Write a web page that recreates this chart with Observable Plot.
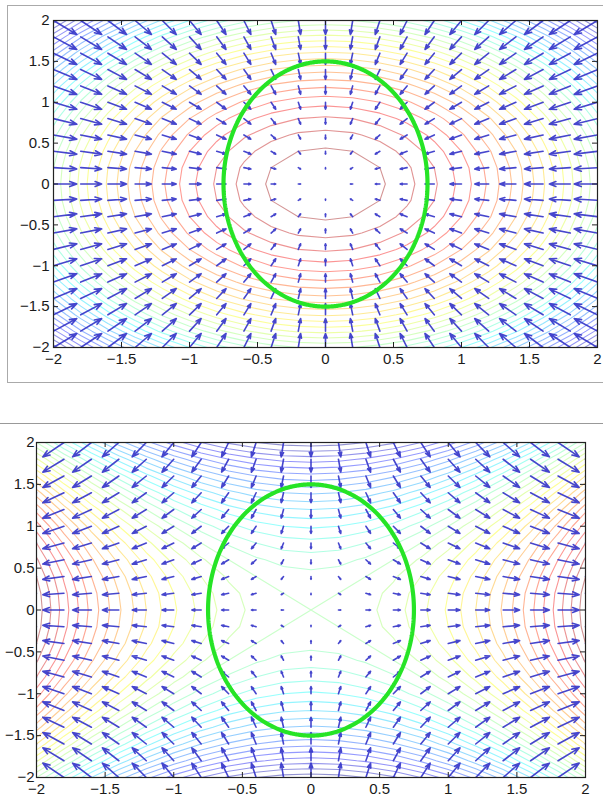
<!DOCTYPE html>
<html><head><meta charset="utf-8">
<script src="https://cdn.jsdelivr.net/npm/d3@7"></script>
<script src="https://cdn.jsdelivr.net/npm/@observablehq/plot@0.6"></script>
<style>
body{margin:0;background:#fff;width:603px;height:797px;position:relative;overflow:hidden;font-family:"Liberation Sans",Arial,sans-serif}
#p1{position:absolute;left:0;top:0}
#p2{position:absolute;left:0;top:423px}
.b1{position:absolute;left:7px;top:5px;width:596px;height:376px;border:1px solid #aaa;border-right:none}
.b2{position:absolute;left:0;top:423px;width:603px;height:0;border-top:1px solid #999}
</style></head><body>
<div id="p1"></div><div id="p2"></div>
<div class="b1"></div><div class="b2"></div>
<script>
// ---- data ----
// quiver grid (arrow tails)
const gridPts = [-2,-1.8,-1.6,-1.4,-1.2,-1,-0.8,-0.6,-0.4,-0.2,0,0.2,0.4,0.6,0.8,1,1.2,1.4,1.6,1.8,2];
// contour sampling grid (same spacing, padded past the axes so no ring closes on the frame)
const contourPts = [-2.4,-2.2,-2,-1.8,-1.6,-1.4,-1.2,-1,-0.8,-0.6,-0.4,-0.2,0,0.2,0.4,0.6,0.8,1,1.2,1.4,1.6,1.8,2,2.2,2.4];
const xTicks = [-2,-1.5,-1,-0.5,0,0.5,1,1.5,2];
const yTicks = [-2,-1.5,-1,-0.5,0,0.5,1,1.5,2];
// contour levels
const bowlLevels = [-7.88,-7.64,-7.4,-7.16,-6.92,-6.68,-6.44,-6.2,-5.96,-5.72,-5.48,-5.24,-5.0,-4.76,-4.52,-4.28,-4.04,-3.8,-3.56,-3.32,-3.08,-2.84,-2.6,-2.36,-2.12,-1.88,-1.64,-1.4,-1.16,-0.92,-0.68,-0.44,-0.2];
const saddleLevels = [-3.84,-3.6,-3.36,-3.12,-2.88,-2.64,-2.4,-2.16,-1.92,-1.68,-1.44,-1.2,-0.96,-0.72,-0.48,-0.24,0,0.24,0.48,0.72,0.96,1.2,1.44,1.68,1.92,2.16,2.4,2.64,2.88,3.12,3.36,3.6,3.84];
const bowlRange = [-8, 0];
const saddleRange = [-4, 4];
const ellipseAxes = [0.75, 1.5];
const jetStops = [0, 0.125, 0.375, 0.625, 0.875, 1];
const jetColors = ["#000080", "#0000ff", "#00ffff", "#ffff00", "#ff0000", "#800000"];

// surfaces and their gradients
const bowl = {f: (x, y) => -(x * x + y * y), g: (x, y) => [-2 * x, -2 * y]};
const saddle = {f: (x, y) => x * x - y * y, g: (x, y) => [2 * x, -2 * y]};

const fmt = d => (d < 0 ? "\u2212" : "") + Math.abs(d);

function gridValues(fn) {
  const vals = [];
  for (const y of contourPts) for (const x of contourPts) vals.push(fn(x, y));
  return vals;
}
function quiver(gn) {
  const pts = [];
  for (const y of gridPts) for (const x of gridPts) { const [u, v] = gn(x, y); pts.push({x, y, u, v}); }
  // MATLAB-style autoscale
  const n = gridPts.length;
  const del = Math.hypot(4 / n, 4 / n);
  const maxlen = d3.max(pts, p => Math.hypot(p.u, p.v) / del);
  const s = 0.9 / maxlen;
  return pts.map(p => ({...p, x2: p.x + s * p.u, y2: p.y + s * p.v}));
}

function panel(surface, levels, range, dims) {
  const {width, height, ml, mr, mt, mb, xpad, ypad} = dims;
  const pw = width - ml - mr, ph = height - mt - mb;
  const half = (contourPts[1] - contourPts[0]) / 2;
  const lo = contourPts[0] - half, hi = contourPts[contourPts.length - 1] + half;
  const n = contourPts.length;
  return Plot.plot({
    width, height, marginLeft: ml, marginRight: mr, marginTop: mt, marginBottom: mb,
    x: {domain: [-2, 2], label: null},
    y: {domain: [-2, 2], label: null},
    color: {type: "linear", domain: jetStops.map(t => range[0] + t * (range[1] - range[0])), range: jetColors, interpolate: "rgb"},
    style: {fontFamily: "'Liberation Sans', Arial, sans-serif", fontSize: "15px", color: "#1a1a1a", background: "white"},
    marks: [
      Plot.contour(gridValues(surface.f), {width: n, height: n, x1: lo, x2: hi, y1: lo, y2: hi,
        value: Plot.identity, thresholds: levels, stroke: "value", fill: "none",
        strokeWidth: 1.1, strokeOpacity: 0.42, clip: true}),
      Plot.arrow(quiver(surface.g), {x1: "x", y1: "y", x2: "x2", y2: "y2",
        stroke: "#3232c8", strokeWidth: 1.6, strokeOpacity: 0.9, headLength: 7, headAngle: 40, clip: true}),
      Plot.contour({x1: lo, x2: hi, y1: lo, y2: hi,
        value: (x, y) => (x / ellipseAxes[0]) ** 2 + (y / ellipseAxes[1]) ** 2,
        thresholds: [1], stroke: "#26e426", strokeWidth: 4.2, fill: "none", pixelSize: 1, clip: true}),
      Plot.frame({stroke: "#222", strokeWidth: 1.2}),
      Plot.ruleX(xTicks, {x: d => d, insetTop: ph - 5, stroke: "#222"}),
      Plot.ruleX(xTicks, {x: d => d, insetBottom: ph - 5, stroke: "#222"}),
      Plot.ruleY(yTicks, {y: d => d, insetRight: pw - 5, stroke: "#222"}),
      Plot.ruleY(yTicks, {y: d => d, insetLeft: pw - 5, stroke: "#222"}),
      Plot.axisX(xTicks, {anchor: "bottom", tickSize: 0, tickPadding: xpad, tickFormat: fmt, label: null, fontSize: 15}),
      Plot.axisY(yTicks, {anchor: "left", tickSize: 0, tickPadding: ypad, tickFormat: fmt, label: null, fontSize: 15})
    ]
  });
}

document.getElementById("p1").appendChild(panel(bowl, bowlLevels, bowlRange,
  {width: 603, height: 380, ml: 53, mr: 6, mt: 20, mb: 33, xpad: 6, ypad: 4}));
document.getElementById("p2").appendChild(panel(saddle, saddleLevels, saddleRange,
  {width: 603, height: 374, ml: 36, mr: 18, mt: 19, mb: 20, xpad: 6, ypad: 2}));
</script>
</body></html>
